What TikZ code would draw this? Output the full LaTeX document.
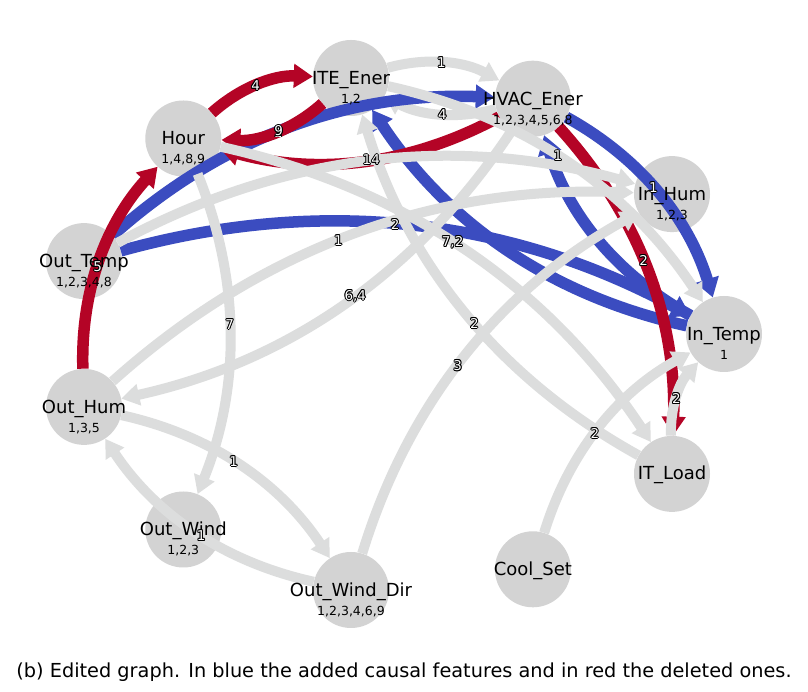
\documentclass[tikz,border=0pt]{standalone}
\usepackage{fontspec}
\setmainfont{DejaVu Sans}
\usetikzlibrary{arrows.meta}
\definecolor{cblue}{HTML}{3B4CC0}
\definecolor{cred}{HTML}{B40426}
\definecolor{cgray}{HTML}{DCDDDD}
\definecolor{cnode}{HTML}{D3D3D3}
\newcommand{\outl}[1]{{\setbox0=\hbox{#1}%
\def\sh##1##2{\rlap{\kern##1\raise##2\hbox{\color{black}\copy0}}}%
\sh{-1pt}{0pt}\sh{1pt}{0pt}\sh{0pt}{1pt}\sh{0pt}{-1pt}%
\sh{-.7pt}{.7pt}\sh{.7pt}{.7pt}\sh{-.7pt}{-.7pt}\sh{.7pt}{-.7pt}%
\color{white}\box0}}
\tikzset{
  vert/.style={circle, fill=cnode, minimum size=76pt, inner sep=0pt},
  ntext/.style={anchor=base, inner sep=0pt, font=\fontsize{18}{18}\selectfont},
  nnum/.style={anchor=base, inner sep=0pt, font=\fontsize{12.5}{12.5}\selectfont},
  elab/.style={inner sep=0pt, font=\fontsize{13.5}{13.5}\selectfont},
  arc/.style={bend left=22, looseness=0.92},
  gr/.style={draw=cgray, line width=10pt, -{Triangle[length=18pt,width=21pt]}},
  bl/.style={draw=cblue, line width=11.5pt, -{Triangle[length=19pt,width=23pt]}},
  rd/.style={draw=cred, line width=11.5pt, -{Triangle[length=19pt,width=23pt]}},
}
\begin{document}
\begin{tikzpicture}[x=1pt,y=1pt]
\fill[white] (0,0) rectangle (808,692);
\useasboundingbox (0,0) rectangle (808,692);
% nodes
\node[vert] (ite) at (351,614) {};
\node[vert] (hvac) at (532.9,593.3) {};
\node[vert] (hour) at (183.3,553.5) {};
\node[vert] (inhum) at (672,497.9) {};
\node[vert] (otemp) at (84,430.9) {};
\node[vert] (intemp) at (724,358) {};
\node[vert] (ohum) at (84,285.1) {};
\node[vert] (itload) at (672,218.1) {};
\node[vert] (owind) at (183.3,162.5) {};
\node[vert] (owd) at (351,102) {};
\node[vert] (cool) at (532.9,122.7) {};
% gray edge under blue
\draw[gr] (hvac) to[arc] coordinate[pos=.47] (m0) (ite);
% blue edges
\draw[bl] (intemp) to[arc] (ite);
\draw[bl] (intemp) to[arc] (hvac);
\draw[bl] (otemp) to[arc] coordinate[pos=.47] (mb1) (hvac);
\draw[bl] (otemp) to[arc] coordinate[pos=.47] (mb2) (intemp);
\draw[bl] (hvac) to[arc] coordinate[pos=.47] (mb3) (intemp);
% red edges
\draw[rd] (hour) to[arc] coordinate[pos=.47] (mr1) (ite);
\draw[rd] (ite) to[arc] coordinate[pos=.47] (mr2) (hour);
\draw[rd] (hvac) to[arc] coordinate[pos=.47] (mr3) (hour);
\draw[rd] (ohum) to[arc] coordinate[pos=.47] (mr4) (hour);
\draw[rd] (hvac) to[arc] coordinate[pos=.47] (mr5) (itload);
% gray edges
\draw[gr] (ite) to[arc] coordinate[pos=.47] (mg1) (hvac);
\draw[gr] (ite) to[arc] coordinate[pos=.47] (mg2) (intemp);
\draw[gr] (hour) to[arc] coordinate[pos=.47] (mg3) (owind);
\draw[gr] (hour) to[arc] coordinate[pos=.47] (mg4) (itload);
\draw[gr] (itload) to[arc] coordinate[pos=.47] (mg5) (ite);
\draw[gr] (hvac) to[arc] coordinate[pos=.47] (mg6) (ohum);
\draw[gr] (otemp) to[arc] (inhum);
\draw[gr] (ohum) to[arc] coordinate[pos=.47] (mg7) (inhum);
\draw[gr] (owd) to[arc] coordinate[pos=.47] (mg8) (inhum);
\draw[gr] (cool) to[arc] coordinate[pos=.47] (mg9) (intemp);
\draw[gr] (itload) to[arc] coordinate[pos=.47] (mg10) (intemp);
\draw[gr] (ohum) to[arc] coordinate[pos=.47] (mg11) (owd);
\draw[gr] (owd) to[arc] coordinate[pos=.47] (mg12) (ohum);
% node texts
\node[ntext] (iteT) at (351,607.5) {ITE\_Ener};
\node[nnum] (iteN) at (351,588.5) {1,2};
\node[ntext] (hvacT) at (532.9,586.8) {HVAC\_Ener};
\node[nnum] (hvacN) at (532.9,567.8) {1,2,3,4,5,6,8};
\node[ntext] (hourT) at (183.3,547) {Hour};
\node[nnum] (hourN) at (183.3,528) {1,4,8,9};
\node[ntext] (inhumT) at (672,491.4) {In\_Hum};
\node[nnum] (inhumN) at (672,472.4) {1,2,3};
\node[ntext] (otempT) at (84,424.4) {Out\_Temp};
\node[nnum] (otempN) at (84,405.4) {1,2,3,4,8};
\node[ntext] (intempT) at (724,351.5) {In\_Temp};
\node[nnum] (intempN) at (724,332.5) {1};
\node[ntext] (ohumT) at (84,278.6) {Out\_Hum};
\node[nnum] (ohumN) at (84,259.6) {1,3,5};
\node[ntext] (itloadT) at (672,212) {IT\_Load};
\node[ntext] (owindT) at (183.3,156) {Out\_Wind};
\node[nnum] (owindN) at (183.3,137) {1,2,3};
\node[ntext] (owdT) at (351,95.5) {Out\_Wind\_Dir};
\node[nnum] (owdN) at (351,76.5) {1,2,3,4,6,9};
\node[ntext] (coolT) at (532.9,116.7) {Cool\_Set};
% edge labels
\node[elab] (l0) at (m0) {\outl{4}};
\node[elab] (lb1) at (mb1) {\outl{1}};
\node[elab] (lb2) at (mb2) {\outl{2}};
\node[elab] (lb3) at (mb3) {\outl{1}};
\node[elab] (lr1) at (mr1) {\outl{4}};
\node[elab] (lr2) at (mr2) {\outl{9}};
\node[elab] (lr3) at (mr3) {\outl{14}};
\node[elab] (lr4) at (mr4) {\outl{5}};
\node[elab] (lr5) at (mr5) {\outl{2}};
\node[elab] (lg1) at (mg1) {\outl{1}};
\node[elab] (lg2) at (mg2) {\outl{1}};
\node[elab] (lg3) at (mg3) {\outl{7}};
\node[elab] (lg4) at (mg4) {\outl{7,2}};
\node[elab] (lg5) at (mg5) {\outl{2}};
\node[elab] (lg6) at (mg6) {\outl{6,4}};
\node[elab] (lg7) at (mg7) {\outl{1}};
\node[elab] (lg8) at (mg8) {\outl{3}};
\node[elab] (lg9) at (mg9) {\outl{2}};
\node[elab] (lg10) at (mg10) {\outl{2}};
\node[elab] (lg11) at (mg11) {\outl{1}};
\node[elab] (lg12) at (mg12) {\outl{1}};
% caption
\node[anchor=base, inner sep=0pt, font=\fontsize{19.3}{19.3}\selectfont] (cap) at (404,14) {(b) Edited graph. In blue the added causal features and in red the deleted ones.};
\end{tikzpicture}
\end{document}
